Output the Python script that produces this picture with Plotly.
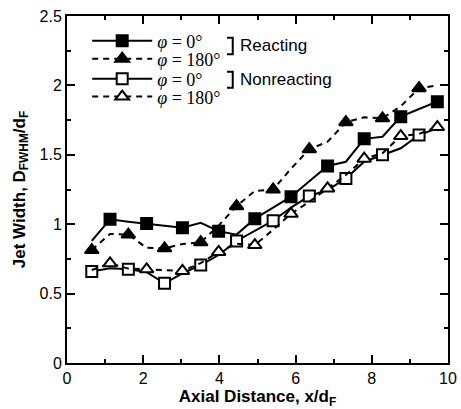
import plotly.graph_objects as go

# Axial stations (x/d_F) shared by all four profiles
x_d = [0.65, 1.13, 1.61, 2.09, 2.56, 3.03, 3.51, 3.98, 4.45, 4.93,
       5.41, 5.88, 6.36, 6.84, 7.32, 7.80, 8.28, 8.76, 9.24, 9.72]

# Jet width D_FWHM/d_F
react_0 = [0.88, 1.035, 1.018, 1.005, 0.987, 0.975, 1.01, 0.95, 0.925, 1.04,
           1.12, 1.198, 1.31, 1.42, 1.45, 1.615, 1.63, 1.775, 1.83, 1.883]
react_180 = [0.814, 0.93, 0.925, 0.83, 0.826, 0.857, 0.87, 0.99, 1.13, 1.24,
             1.25, 1.40, 1.54, 1.594, 1.735, 1.77, 1.763, 1.85, 1.98, 2.0]
nonreact_0 = [0.66, 0.682, 0.675, 0.655, 0.574, 0.646, 0.706, 0.778, 0.879, 0.95,
              1.025, 1.12, 1.203, 1.246, 1.33, 1.45, 1.50, 1.547, 1.643, 1.69]
nonreact_180 = [0.67, 0.718, 0.68, 0.675, 0.665, 0.663, 0.72, 0.80, 0.86, 0.85,
                0.96, 1.075, 1.162, 1.258, 1.354, 1.472, 1.511, 1.635, 1.65, 1.70]

legend_names = ["<i>φ</i> = 0°", "<i>φ</i> = 180°", "<i>φ</i> = 0°", "<i>φ</i> = 180°"]
group_labels = ["Reacting", "Nonreacting"]

DASH = "6px,5px"
series = [
    # values, marker symbol, marker fill, dash, first marked index
    (react_0, "square", "black", "solid", 1),
    (react_180, "triangle-up", "black", DASH, 0),
    (nonreact_0, "square", "white", "solid", 0),
    (nonreact_180, "triangle-up", "white", DASH, 1),
]

# one single-entry legend per series so each row can be placed on its own
legend_ids = ["legend", "legend2", "legend3", "legend4"]
legend_rows = [0.928, 0.876, 0.818, 0.767]

fig = go.Figure()
for (vals, sym, fill, dash, start), name, lid in zip(series, legend_names, legend_ids):
    msize = 11 if sym == "square" else 12
    # connecting line through every station
    fig.add_trace(go.Scatter(x=x_d, y=vals, mode="lines", showlegend=False,
                             line=dict(color="black", width=2, dash=dash)))
    # symbols on alternate stations
    fig.add_trace(go.Scatter(x=x_d[start::2], y=vals[start::2], mode="markers",
                             showlegend=False,
                             marker=dict(symbol=sym, size=msize, color=fill,
                                         line=dict(color="black", width=2))))
    # legend key
    fig.add_trace(go.Scatter(x=[None], y=[None], mode="lines+markers", name=name,
                             legend=lid,
                             line=dict(color="black", width=2, dash=dash),
                             marker=dict(symbol=sym, size=msize, color=fill,
                                         line=dict(color="black", width=2))))

axis_common = dict(
    showgrid=False, zeroline=False, showline=True, linecolor="black", linewidth=2,
    mirror="allticks", ticks="inside", ticklen=8, tickwidth=2, tickcolor="black",
    automargin=False,
    tickfont=dict(family="Liberation Sans", size=16, color="black"),
    minor=dict(ticks="inside", ticklen=4, tickwidth=1.5, tickcolor="black"),
)

fig.update_xaxes(range=[0, 10], dtick=2, minor_dtick=1,
                 title=dict(text="<b>Axial Distance, x/d<sub>F</sub></b>", standoff=1,
                            font=dict(family="Liberation Sans", size=17, color="black")),
                 **axis_common)
fig.update_yaxes(range=[0, 2.5], dtick=0.5, minor_dtick=0.25,
                 title=dict(text="<b>Jet Width, D<sub>FWHM</sub>/d<sub>F</sub></b>", standoff=10,
                            font=dict(family="Liberation Sans", size=17, color="black")),
                 **axis_common)

# brackets grouping the legend entries
for y0, y1 in [(0.890, 0.937), (0.793, 0.839)]:
    fig.add_shape(type="path", xref="paper", yref="paper",
                  path=f"M 0.42,{y1} L 0.435,{y1} L 0.435,{y0} L 0.42,{y0}",
                  line=dict(color="black", width=2))
for label, yc in zip(group_labels, [0.914, 0.816]):
    fig.add_annotation(text=label, xref="paper", yref="paper", x=0.448, y=yc,
                       xanchor="left", yanchor="middle", showarrow=False,
                       font=dict(family="Liberation Sans", size=17, color="black"))

legend_style = dict(xanchor="left", yanchor="middle", bgcolor="rgba(0,0,0,0)",
                    borderwidth=0, itemwidth=60,
                    font=dict(family="Liberation Serif", size=18, color="black"))

fig.update_layout(
    width=461, height=409,
    margin=dict(l=67, r=13, t=16, b=46),
    paper_bgcolor="white", plot_bgcolor="white",
    **{lid: dict(x=0.053, y=yr, **legend_style) for lid, yr in zip(legend_ids, legend_rows)},
)

fig.write_html("out.html")
